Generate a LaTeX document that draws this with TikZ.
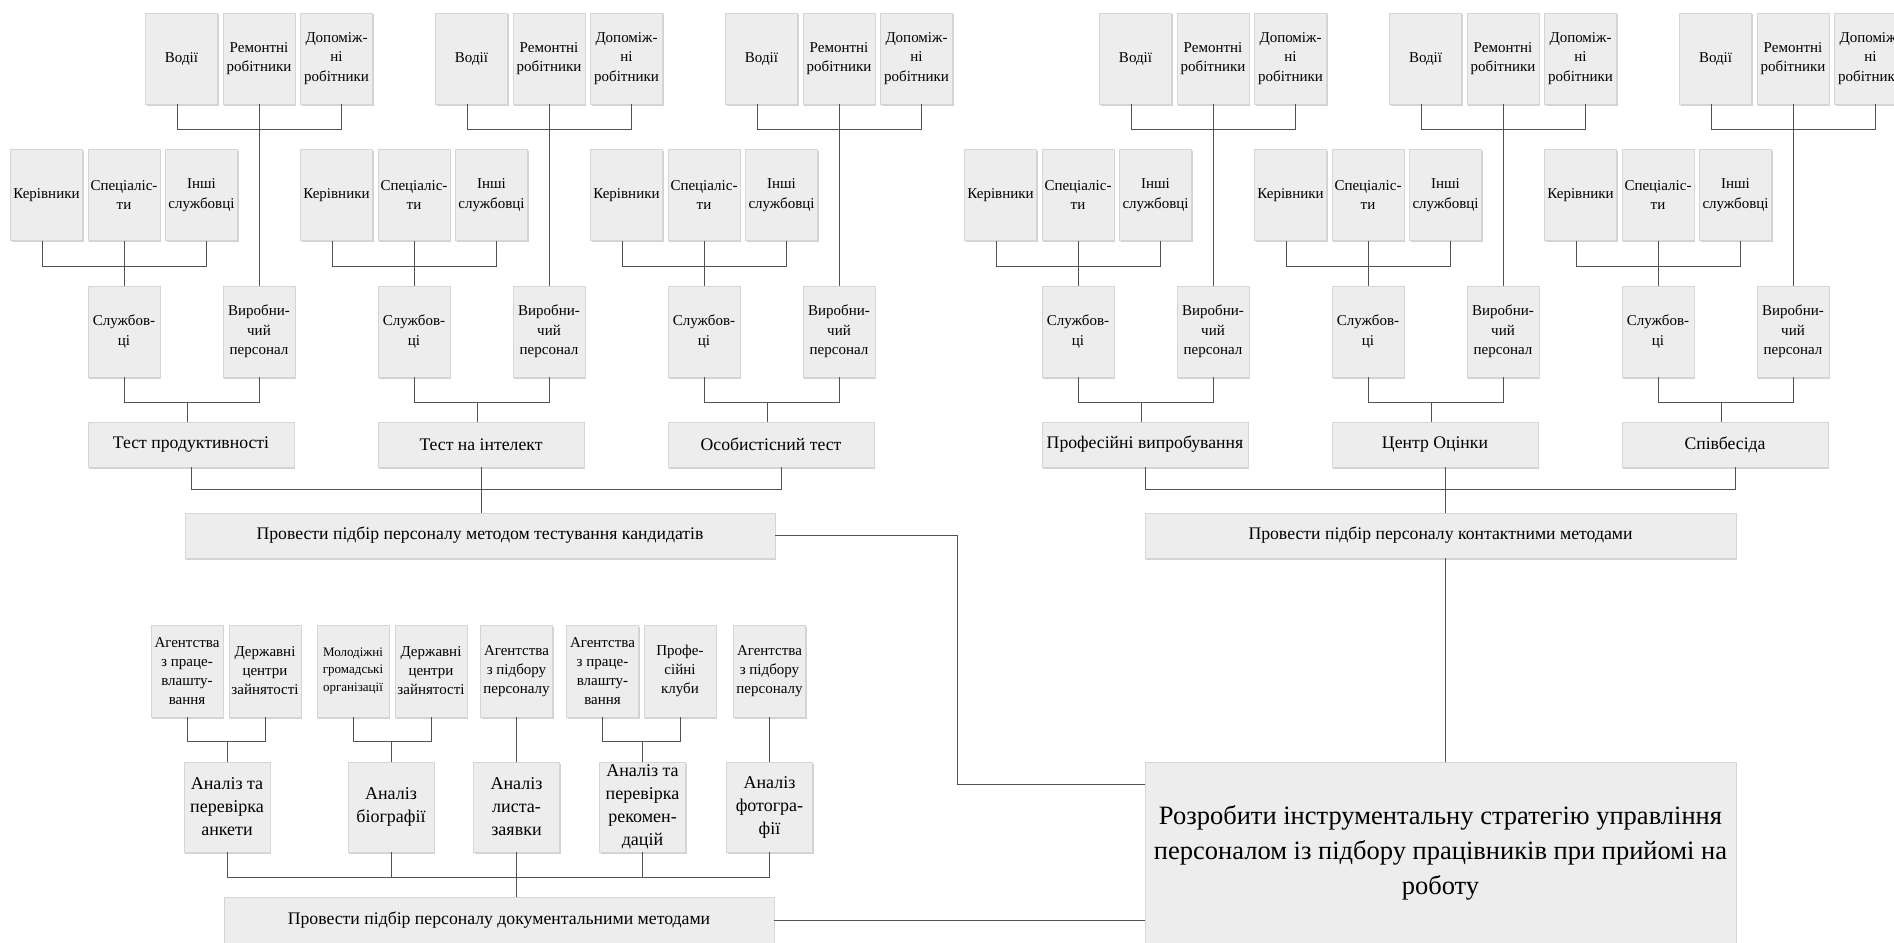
\documentclass[tikz,border=0pt]{standalone}
\usepackage{fontspec}
\setmainfont{Liberation Serif}
\usetikzlibrary{shadows}

% one column of a test: workers and staff feeding one test box
\newcommand{\staffgroup}[3]{%
  \begin{scope}[xshift=#1]
  \node[smallbox] (#2v) at (181.5,58.5) {Водії};
  \node[smallbox] (#2r) at (259,58.5) {Ремонтні\\робітники};
  \node[smallbox] (#2d) at (336.5,58.5) {Допоміж-\\ні\\робітники};
  \node[smallbox] (#2k) at (46.5,195) {Керівники};
  \node[smallbox] (#2s) at (124,195) {Спеціаліс-\\ти};
  \node[smallbox] (#2i) at (201.5,195) {Інші\\службовці};
  \node[smallbox] (#2sl) at (124,331.5) {Службов-\\ці};
  \node[smallbox] (#2w) at (259,331.5) {Виробни-\\чий\\персонал};
  \node[testbox] (#2t) at (191,444.5) {#3};
  \draw[conn] ([xshift=-4]#2v.south) -- ++(0,25) -| ([xshift=5]#2d.south);
  \draw[conn] (#2r.south) -- (#2w.north);
  \draw[conn] ([xshift=-4]#2k.south) -- ++(0,26) -| ([xshift=5]#2i.south);
  \draw[conn] (#2s.south) -- (#2sl.north);
  \draw[conn] (#2sl.south) -- ++(0,25) -| (#2w.south);
  \draw[conn] ([xshift=-4]#2t.north) -- ++(0,-20);
  \end{scope}%
}

\begin{document}
\begin{tikzpicture}[x=1pt, y=-1pt,
  box/.style={draw=black!16, fill=black!7, inner sep=1pt, align=center,
    drop shadow={shadow xshift=1pt, shadow yshift=-1.5pt, fill=black!22, opacity=0.8}},
  smallbox/.style={box, minimum width=72pt, minimum height=91pt,
    font=\fontsize{15}{19.5}\selectfont},
  testbox/.style={box, minimum width=206pt, minimum height=45pt,
    font=\fontsize{17.7}{22}\selectfont},
  widebox/.style={box, minimum width=590pt, minimum height=45pt,
    font=\fontsize{17.7}{22}\selectfont},
  docbox/.style={box, minimum width=72pt, minimum height=92pt,
    font=\fontsize{15}{19}\selectfont},
  anbox/.style={box, minimum width=86pt, minimum height=90pt,
    font=\fontsize{18}{23}\selectfont},
  conn/.style={draw=black!68, line width=0.8pt}]
\clip (0,0) rectangle (1894,942);

% testing methods
\staffgroup{0}{ga}{Тест продуктивності}
\staffgroup{290}{gb}{Тест на інтелект}
\staffgroup{580}{gc}{Особистісний тест}
% contact methods
\staffgroup{954}{gd}{Професійні випробування}
\staffgroup{1244}{ge}{Центр Оцінки}
\staffgroup{1534}{gf}{Співбесіда}

\node[widebox] (test) at (480,535.5) {Провести підбір персоналу методом тестування кандидатів};
\node[widebox, minimum width=591pt] (contact) at (1440.5,535.5)
  {Провести підбір персоналу контактними методами};
\node[box, minimum width=591pt, minimum height=182pt,
  font=\fontsize{26.5}{35}\selectfont] (main) at (1440.5,853)
  {Розробити інструментальну стратегію управління\\персоналом із підбору працівників при прийомі на\\роботу};

\draw[conn] (gat.south) -- ++(0,22) -| ([xshift=10]gct.south);
\draw[conn] (gbt.south) -- (gbt.south |- test.north);
\draw[conn] (gdt.south) -- ++(0,22) -| ([xshift=10]gft.south);
\draw[conn] ([xshift=4.5]contact.north) -- ([xshift=4.5]contact.north |- get.south);
\draw[conn] ([xshift=4.5]contact.south) -- ([xshift=4.5]main.north);
\draw[conn] (test.east) -- ++(182,0) |- ([yshift=69]main.west);

% documentary methods
\node[docbox] (d1) at (187,671) {Агентства\\з праце-\\влашту-\\вання};
\node[docbox] (d2) at (265,671) {Державні\\центри\\зайнятості};
\node[docbox, font=\fontsize{13}{17.5}\selectfont] (d3) at (353,671) {Молодіжні\\громадські\\організації};
\node[docbox] (d4) at (431,671) {Державні\\центри\\зайнятості};
\node[docbox] (d5) at (516.5,671) {Агентства\\з підбору\\персоналу};
\node[docbox] (d6) at (602.5,671) {Агентства\\з праце-\\влашту-\\вання};
\node[docbox] (d7) at (680,671) {Профе-\\сійні\\клуби};
\node[docbox] (d8) at (769.5,671) {Агентства\\з підбору\\персоналу};

\node[anbox] (da) at (227,807) {Аналіз та\\перевірка\\анкети};
\node[anbox] (db) at (391,807) {Аналіз\\біографії};
\node[anbox] (dc) at (516.5,807) {Аналіз\\листа-\\заявки};
\node[anbox] (dd) at (642.5,807) {Аналіз та\\перевірка\\рекомен-\\дацій};
\node[anbox] (de) at (769.5,807) {Аналіз\\фотогра-\\фії};

\node[widebox, minimum width=550pt, minimum height=46pt] (doc) at (499,920)
  {Провести підбір персоналу документальними методами};

\draw[conn] (d1.south) -- ++(0,24) -| (d2.south);
\draw[conn] (da.north) -- ++(0,-21);
\draw[conn] (d3.south) -- ++(0,24) -| (d4.south);
\draw[conn] (db.north) -- ++(0,-21);
\draw[conn] (d5.south) -- (dc.north);
\draw[conn] (d6.south) -- ++(0,24) -| (d7.south);
\draw[conn] (dd.north) -- ++(0,-21);
\draw[conn] (d8.south) -- (de.north);

\draw[conn] (da.south) -- ++(0,25) -| (de.south);
\draw[conn] (db.south) -- ++(0,25);
\draw[conn] (dd.south) -- ++(0,25);
\draw[conn] (dc.south) -- (dc.south |- doc.north);
\draw[conn] (doc.east) -- (doc.east -| main.west);

\end{tikzpicture}
\end{document}
